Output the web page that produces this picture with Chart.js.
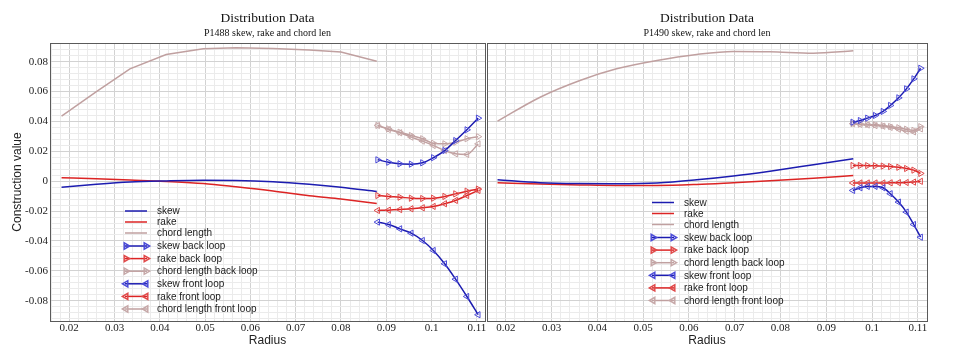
<!DOCTYPE html>
<html><head><meta charset="utf-8">
<script src="https://cdn.jsdelivr.net/npm/chart.js@4.4.1/dist/chart.umd.min.js"></script>
<style>
html,body{margin:0;padding:0;background:#fff;}
#wrap{position:relative;width:971px;height:357px;overflow:hidden;background:#fff;}
#c1{position:absolute;left:0;top:0;}
#c2{position:absolute;left:480px;top:0;}
</style></head><body>
<div id="wrap"><canvas id="c1" width="490" height="357"></canvas><canvas id="c2" width="491" height="357"></canvas></div>
<script>
// ---------- texts ----------
const panelTitles = ['Distribution Data', 'Distribution Data'];
const panelSubtitles = ['P1488 skew, rake and chord len', 'P1490 skew, rake and chord len'];
const xTitle = 'Radius';
const yTitle = 'Construction value';
const seriesLabels = ['skew', 'rake', 'chord length', 'skew back loop', 'rake back loop',
  'chord length back loop', 'skew front loop', 'rake front loop', 'chord length front loop'];

// ---------- P1488 (left) ----------
const p1488Radius = [0.0183, 0.0260, 0.0334, 0.0414, 0.0496, 0.0568, 0.0650, 0.0730, 0.0800, 0.0879];
const p1488Skew   = [-0.0040, -0.0020, -0.0005, 0.0002, 0.0006, 0.0005, -0.0003, -0.0020, -0.0040, -0.0069];
const p1488Rake   = [0.0023, 0.0016, 0.0008, -0.0002, -0.0016, -0.0038, -0.0066, -0.0098, -0.0120, -0.0149];
const p1488Chord  = [0.0435, 0.0600, 0.0752, 0.0848, 0.0886, 0.0893, 0.0889, 0.0878, 0.0864, 0.0803];
const p1488LoopRadius = [0.0881, 0.0905, 0.0930, 0.0955, 0.0980, 0.1004, 0.1029, 0.1053, 0.1078, 0.1103];
const p1488SkewBack   = [0.0143, 0.0127, 0.0116, 0.0114, 0.0123, 0.0157, 0.0205, 0.0272, 0.0344, 0.0422];
const p1488RakeBack   = [-0.0096, -0.0102, -0.0107, -0.0114, -0.0116, -0.0114, -0.0102, -0.0085, -0.0067, -0.0053];
const p1488ChordBack  = [0.0373, 0.0350, 0.0328, 0.0306, 0.0284, 0.0254, 0.0250, 0.0261, 0.0284, 0.0298];
const p1488SkewFront  = [-0.0274, -0.0290, -0.0319, -0.0348, -0.0397, -0.0464, -0.0553, -0.0656, -0.0772, -0.0894];
const p1488RakeFront  = [-0.0196, -0.0194, -0.0190, -0.0185, -0.0178, -0.0169, -0.0151, -0.0129, -0.0096, -0.0062];
const p1488ChordFront = [0.0373, 0.0346, 0.0324, 0.0295, 0.0268, 0.0239, 0.0205, 0.0183, 0.0179, 0.0250];

// ---------- P1490 (right) ----------
const p1490Radius = [0.0182, 0.0275, 0.0362, 0.0442, 0.0530, 0.0617, 0.0697, 0.0777, 0.0872, 0.0959];
const p1490Skew   = [0.0009, -0.0010, -0.0016, -0.0017, -0.0012, 0.0009, 0.0035, 0.0067, 0.0110, 0.0150];
const p1490Rake   = [-0.0011, -0.0019, -0.0025, -0.0029, -0.0029, -0.0022, -0.0010, 0.0003, 0.0020, 0.0038];
const p1490Chord  = [0.0402, 0.0562, 0.0674, 0.0752, 0.0808, 0.0848, 0.0868, 0.0866, 0.0857, 0.0873];
const p1490LoopRadius = [0.0958, 0.0974, 0.0990, 0.1007, 0.1024, 0.1040, 0.1058, 0.1075, 0.1091, 0.1106];
const p1490SkewBack   = [0.0395, 0.0406, 0.0422, 0.0440, 0.0467, 0.0507, 0.0558, 0.0618, 0.0685, 0.0756];
const p1490RakeBack   = [0.0105, 0.0105, 0.0104, 0.0103, 0.0101, 0.0098, 0.0093, 0.0085, 0.0074, 0.0052];
const p1490ChordBack  = [0.0385, 0.0382, 0.0380, 0.0377, 0.0372, 0.0366, 0.0358, 0.0348, 0.0340, 0.0365];
const p1490SkewFront  = [-0.0062, -0.0044, -0.0035, -0.0035, -0.0044, -0.0084, -0.0140, -0.0207, -0.0290, -0.0375];
const p1490RakeFront  = [-0.0012, -0.0012, -0.0012, -0.0012, -0.0012, -0.0011, -0.0010, -0.0009, -0.0006, -0.0001];
const p1490ChordFront = [0.0385, 0.0380, 0.0376, 0.0372, 0.0368, 0.0360, 0.0348, 0.0335, 0.0330, 0.0350];

// ---------- styling ----------
const SERIF = "'Liberation Serif', 'Times New Roman', serif";
const SANS = "'Liberation Sans', Arial, sans-serif";
const SKEW = '#1c1cb0', SKEW_M = '#4b4bd8';
const RAKE = '#dc2424', RAKE_M = '#e04a4a';
const CHORD = '#c0a0a0', CHORD_M = '#c6a8a8';

function pts(xs, ys) { return xs.map((x, i) => ({ x: x, y: ys[i] })); }

function baseDs(label, xs, ys, color, tension) {
  return { label, data: pts(xs, ys), borderColor: color, backgroundColor: color, borderWidth: 1.5,
    pointRadius: 0, tension: tension, cubicInterpolationMode: tension ? 'monotone' : 'default', fill: false };
}
function loopDs(label, xs, ys, color, mcolor, back) {
  return { label, data: pts(xs, ys), borderColor: color, borderWidth: 1.5, tension: 0.3,
    cubicInterpolationMode: 'monotone', pointStyle: 'triangle', pointRotation: back ? 90 : -90,
    pointRadius: 3.6, pointBorderWidth: 1, pointBorderColor: mcolor,
    pointBackgroundColor: 'rgba(255,255,255,0)', fill: false };
}

const legendStyle = [
  { color: SKEW, m: null, kind: 'line' }, { color: RAKE, m: null, kind: 'line' }, { color: CHORD, m: null, kind: 'line' },
  { color: SKEW, m: SKEW_M, kind: 'back' }, { color: RAKE, m: RAKE_M, kind: 'back' }, { color: CHORD, m: CHORD_M, kind: 'back' },
  { color: SKEW, m: SKEW_M, kind: 'front' }, { color: RAKE, m: RAKE_M, kind: 'front' }, { color: CHORD, m: CHORD_M, kind: 'front' }
];

const decorPlugin = {
  id: 'decor',
  afterDatasetsDraw(chart, args, opts) {
    const ctx = chart.ctx, a = chart.chartArea;
    ctx.save();
    // frame
    ctx.strokeStyle = '#5a5a5a'; ctx.lineWidth = 1;
    ctx.strokeRect(Math.round(a.left) + 0.5, Math.round(a.top) + 0.5, Math.round(a.right - a.left) - 0, Math.round(a.bottom - a.top));
    // titles
    const cx = (a.left + a.right) / 2;
    ctx.fillStyle = '#111'; ctx.textAlign = 'center'; ctx.textBaseline = 'middle';
    ctx.font = '13.5px ' + SERIF; ctx.fillText(opts.title, cx, 18);
    ctx.font = '10px ' + SERIF; ctx.fillText(opts.subtitle, cx, 33);
    // legend
    const lx = a.left + opts.legendX, ly = opts.legendY;
    const segLen = 22;
    ctx.font = '10px ' + SANS; ctx.textAlign = 'left';
    seriesLabels.forEach((lab, i) => {
      const st = legendStyle[i];
      const y = ly + (i < 3 ? i * 11 : 35 + (i - 3) * 12.6);
      ctx.strokeStyle = st.color; ctx.lineWidth = 1.5;
      ctx.beginPath(); ctx.moveTo(lx, y); ctx.lineTo(lx + segLen, y); ctx.stroke();
      if (st.kind !== 'line') {
        ctx.strokeStyle = st.m; ctx.fillStyle = 'rgba(255,255,255,0)';
        const o = { pointStyle: 'triangle', rotation: st.kind === 'back' ? 90 : -90, radius: 3.6, borderWidth: 1 };
        Chart.helpers.drawPoint(ctx, o, lx + 1, y);
        Chart.helpers.drawPoint(ctx, o, lx + segLen - 1, y);
      }
      ctx.fillStyle = '#1a1a1a';
      ctx.fillText(lab, lx + segLen + 10, y + 0.5);
    });
    ctx.restore();
  }
};

function isMajor(v, unit) { const q = v / unit; return Math.abs(q - Math.round(q)) < 1e-6; }

function makeConfig(side, datasets, xmin, xmax) {
  const left = side === 'left';
  return {
    type: 'line',
    data: { datasets },
    plugins: [decorPlugin],
    options: {
      responsive: false, animation: false, devicePixelRatio: 1,
      layout: { padding: { top: 43, bottom: 0, left: 0, right: left ? 3 : 44 } },
      plugins: {
        legend: { display: false }, tooltip: { enabled: false },
        decor: {
          title: left ? panelTitles[0] : panelTitles[1],
          subtitle: left ? panelSubtitles[0] : panelSubtitles[1],
          legendX: left ? 75 : 165, legendY: left ? 211 : 202.5
        }
      },
      scales: {
        x: {
          type: 'linear', min: xmin, max: xmax,
          afterFit(s) { s.height = 36; },
          border: { display: false },
          grid: { drawTicks: false, lineWidth: 1,
            color: c => isMajor(c.tick.value, 0.01) ? '#d2d2d2' : '#ebebeb' },
          ticks: { stepSize: 0.002, includeBounds: false, autoSkip: false, maxRotation: 0, padding: 1,
            color: '#222', font: { family: SERIF, size: 11 },
            callback: v => isMajor(v, 0.01) ? String(Math.round(v * 100) / 100) : '' },
          title: { display: true, text: xTitle, color: '#222', font: { family: SANS, size: 12 },
            padding: { top: 0, bottom: 8.8 } }
        },
        y: {
          type: 'linear', min: -0.0936, max: 0.0925,
          afterFit(s) { s.width = left ? 50 : 7; },
          border: { display: false },
          grid: { drawTicks: false, lineWidth: 1,
            color: c => isMajor(c.tick.value, 0.02) ? '#d2d2d2' : '#ebebeb' },
          ticks: { display: left, stepSize: 0.004, includeBounds: false, autoSkip: false, padding: 2,
            color: '#222', font: { family: SERIF, size: 11 },
            callback: v => isMajor(v, 0.02) ? String(Math.round(v * 100) / 100) : '' },
          title: { display: left, text: yTitle, color: '#222', font: { family: SANS, size: 12 },
            padding: { top: 10.8, bottom: 0 } }
        }
      }
    }
  };
}

const leftSets = [
  baseDs(seriesLabels[0], p1488Radius, p1488Skew, SKEW, 0.4),
  baseDs(seriesLabels[1], p1488Radius, p1488Rake, RAKE, 0.4),
  baseDs(seriesLabels[2], p1488Radius, p1488Chord, CHORD, 0),
  loopDs(seriesLabels[3], p1488LoopRadius, p1488SkewBack, SKEW, SKEW_M, true),
  loopDs(seriesLabels[4], p1488LoopRadius, p1488RakeBack, RAKE, RAKE_M, true),
  loopDs(seriesLabels[5], p1488LoopRadius, p1488ChordBack, CHORD, CHORD_M, true),
  loopDs(seriesLabels[6], p1488LoopRadius, p1488SkewFront, SKEW, SKEW_M, false),
  loopDs(seriesLabels[7], p1488LoopRadius, p1488RakeFront, RAKE, RAKE_M, false),
  loopDs(seriesLabels[8], p1488LoopRadius, p1488ChordFront, CHORD, CHORD_M, false)
];
const rightSets = [
  baseDs(seriesLabels[0], p1490Radius, p1490Skew, SKEW, 0.4),
  baseDs(seriesLabels[1], p1490Radius, p1490Rake, RAKE, 0.4),
  baseDs(seriesLabels[2], p1490Radius, p1490Chord, CHORD, 0.4),
  loopDs(seriesLabels[3], p1490LoopRadius, p1490SkewBack, SKEW, SKEW_M, true),
  loopDs(seriesLabels[4], p1490LoopRadius, p1490RakeBack, RAKE, RAKE_M, true),
  loopDs(seriesLabels[5], p1490LoopRadius, p1490ChordBack, CHORD, CHORD_M, true),
  loopDs(seriesLabels[6], p1490LoopRadius, p1490SkewFront, SKEW, SKEW_M, false),
  loopDs(seriesLabels[7], p1490LoopRadius, p1490RakeFront, RAKE, RAKE_M, false),
  loopDs(seriesLabels[8], p1490LoopRadius, p1490ChordFront, CHORD, CHORD_M, false)
];

new Chart(document.getElementById('c1'), makeConfig('left', leftSets, 0.01575, 0.1118));
new Chart(document.getElementById('c2'), makeConfig('right', rightSets, 0.0159, 0.1120));
</script>
</body></html>
